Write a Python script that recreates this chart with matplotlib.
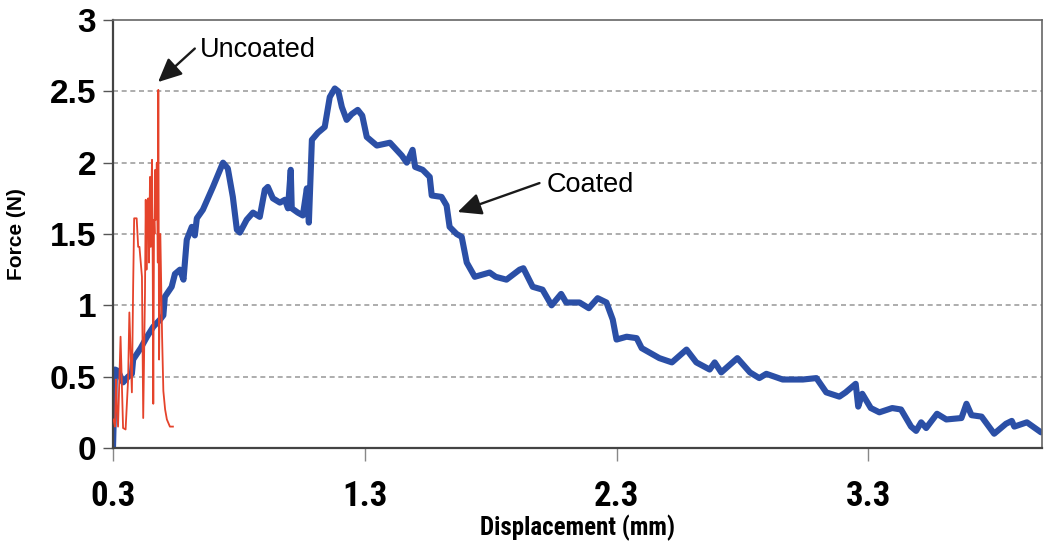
import matplotlib
matplotlib.use("Agg")
import matplotlib.pyplot as plt
from matplotlib import font_manager as fm

# ---- data ----
coated_x = [0.300, 0.308, 0.320, 0.340, 0.360, 0.375, 0.380, 0.410, 0.435, 0.460,
            0.487, 0.500, 0.506, 0.533, 0.546, 0.566, 0.580, 0.593, 0.613, 0.625,
            0.633, 0.657, 0.697, 0.737, 0.756, 0.776, 0.792, 0.804, 0.831, 0.856,
            0.883, 0.903, 0.915, 0.935, 0.963, 0.983, 0.995, 1.006, 1.010, 1.034,
            1.054, 1.070, 1.078, 1.090, 1.114, 1.141, 1.161, 1.181, 1.195, 1.209,
            1.228, 1.248, 1.272, 1.290, 1.308, 1.348, 1.400, 1.447, 1.467, 1.490,
            1.500, 1.530, 1.558, 1.566, 1.605, 1.625, 1.637, 1.665, 1.685, 1.705,
            1.737, 1.796, 1.820, 1.863, 1.915, 1.930, 1.967, 2.006, 2.042, 2.080,
            2.100, 2.153, 2.190, 2.225, 2.260, 2.285, 2.300, 2.340, 2.380, 2.400,
            2.430, 2.470, 2.520, 2.578, 2.617, 2.670, 2.690, 2.716, 2.780, 2.830,
            2.867, 2.895, 2.960, 3.040, 3.094, 3.133, 3.185, 3.210, 3.250, 3.260,
            3.276, 3.310, 3.344, 3.395, 3.430, 3.470, 3.490, 3.510, 3.530, 3.573,
            3.610, 3.670, 3.690, 3.710, 3.750, 3.800, 3.847, 3.870, 3.880, 3.930,
            3.986]
coated_y = [0.00, 0.55, 0.54, 0.46, 0.50, 0.52, 0.62, 0.70, 0.78, 0.85,
            0.90, 0.93, 1.06, 1.13, 1.22, 1.25, 1.18, 1.46, 1.55, 1.49,
            1.61, 1.67, 1.83, 2.00, 1.96, 1.76, 1.53, 1.51, 1.60, 1.65,
            1.62, 1.81, 1.83, 1.75, 1.72, 1.74, 1.68, 1.95, 1.68, 1.65,
            1.63, 1.82, 1.58, 2.16, 2.21, 2.25, 2.46, 2.52, 2.50, 2.39,
            2.30, 2.34, 2.37, 2.33, 2.18, 2.12, 2.14, 2.05, 2.00, 2.09,
            1.97, 1.95, 1.90, 1.77, 1.76, 1.70, 1.55, 1.50, 1.48, 1.30,
            1.20, 1.23, 1.20, 1.18, 1.25, 1.26, 1.13, 1.11, 1.00, 1.08,
            1.02, 1.02, 0.98, 1.05, 1.02, 0.90, 0.76, 0.78, 0.77, 0.70,
            0.67, 0.63, 0.60, 0.69, 0.60, 0.55, 0.60, 0.53, 0.63, 0.53,
            0.49, 0.52, 0.48, 0.48, 0.49, 0.39, 0.36, 0.39, 0.45, 0.29,
            0.38, 0.28, 0.25, 0.28, 0.27, 0.15, 0.12, 0.18, 0.14, 0.24,
            0.20, 0.21, 0.31, 0.23, 0.22, 0.10, 0.17, 0.19, 0.15, 0.18,
            0.11]

uncoated_x = [0.302, 0.308, 0.312, 0.315, 0.320, 0.330, 0.340, 0.350, 0.360, 0.365,
              0.375, 0.380, 0.384, 0.394, 0.400, 0.405, 0.415, 0.420, 0.427, 0.430,
              0.433, 0.436, 0.440, 0.443, 0.447, 0.450, 0.453, 0.455, 0.458, 0.460,
              0.463, 0.465, 0.468, 0.470, 0.474, 0.478, 0.480, 0.483, 0.488, 0.495,
              0.500, 0.507, 0.514, 0.526, 0.538]
uncoated_y = [0.20, 0.15, 0.48, 0.30, 0.15, 0.78, 0.14, 0.13, 0.48, 0.95,
              0.39, 1.13, 1.61, 1.61, 1.41, 1.41, 1.20, 0.21, 1.08, 1.74,
              1.25, 1.70, 1.75, 1.30, 1.90, 1.41, 1.85, 2.02, 1.20, 0.31,
              1.60, 1.50, 1.95, 1.60, 2.00, 1.30, 2.51, 0.62, 1.50, 0.78,
              0.40, 0.27, 0.20, 0.15, 0.15]

x_ticks = [0.3, 1.3, 2.3, 3.3]
x_tick_labels = ["0.3", "1.3", "2.3", "3.3"]
y_ticks = [0, 0.5, 1, 1.5, 2, 2.5, 3]
y_tick_labels = ["0", "0.5", "1", "1.5", "2", "2.5", "3"]
grid_levels = [0.5, 1, 1.5, 2, 2.5]

# ---- fonts ----
available = {f.name for f in fm.fontManager.ttflist}
main_font = "Liberation Sans" if "Liberation Sans" in available else "DejaVu Sans"


def _is_bold(w):
    if isinstance(w, (int, float)):
        return w >= 600
    return str(w).lower() in ("bold", "heavy", "black", "demibold", "semibold", "extra bold")


narrow_fp = None
pref = ["Liberation Sans Narrow", "Roboto Condensed", "Open Sans Condensed", "DejaVu Sans"]
for name in pref:
    for f in fm.fontManager.ttflist:
        cond = ("Narrow" in f.name or "Condensed" in f.name or
                str(f.stretch) in ("condensed", "semi-condensed", "extra-condensed")
                or "Condensed" in f.fname or "Narrow" in f.fname)
        if f.name == name and cond and _is_bold(f.weight):
            narrow_fp = f.fname
            break
    if narrow_fp:
        break
if narrow_fp is None:
    for f in fm.fontManager.ttflist:
        if ("Narrow" in f.fname or "Condensed" in f.fname) and _is_bold(f.weight) \
                and "Mono" not in f.fname and "Serif" not in f.fname:
            narrow_fp = f.fname
            break

if narrow_fp:
    xt_fp = fm.FontProperties(fname=narrow_fp, size=25)
    xl_fp = fm.FontProperties(fname=narrow_fp, size=18)
else:
    xt_fp = fm.FontProperties(family=main_font, weight="bold", size=22)
    xl_fp = fm.FontProperties(family=main_font, weight="bold", size=15)

fig = plt.figure(figsize=(10.5, 5.49), dpi=100)
ax = fig.add_axes([113 / 1050, 1 - 448 / 549, (1042 - 113) / 1050, (448 - 20) / 549])

for g in grid_levels:
    ax.axhline(g, color="#a0a0a0", lw=1.2, ls=(0, (3.0, 2.2)), zorder=1)

ax.plot(uncoated_x, uncoated_y, color="#e5432b", lw=1.3, zorder=3)
ax.plot(coated_x, coated_y, color="#2b4fa6", lw=4.4, solid_joinstyle="round",
        solid_capstyle="round", zorder=2)

ax.set_xlim(0.3, 3.99)
ax.set_ylim(0, 3)

ax.set_xticks(x_ticks)
ax.set_xticklabels(x_tick_labels, fontproperties=xt_fp)
ax.set_yticks(y_ticks)
ax.set_yticklabels(y_tick_labels, fontfamily=main_font, fontweight="bold", fontsize=24)
ax.tick_params(axis="x", length=9, width=1, color="#888888", pad=14)
ax.tick_params(axis="y", length=7, width=1, color="#555555", pad=5)

for s in ["left", "bottom"]:
    ax.spines[s].set_color("#444444")
    ax.spines[s].set_linewidth(1.6)
for s in ["top", "right"]:
    ax.spines[s].set_color("#666666")
    ax.spines[s].set_linewidth(1.2)

ax.set_xlabel("Displacement (mm)", fontproperties=xl_fp, labelpad=1)
ax.set_ylabel("Force (N)", fontfamily=main_font, fontweight="bold", fontsize=15, labelpad=17)

arrow = dict(arrowstyle="-|>,head_length=0.9,head_width=0.42", color="#1a1a1a",
             facecolor="#4a4a4a", lw=1.7, shrinkA=0, shrinkB=0, mutation_scale=16)
ax.annotate("", xy=(0.479, 2.565), xytext=(0.625, 2.80), arrowprops=arrow)
ax.annotate("", xy=(1.669, 1.654), xytext=(1.994, 1.857), arrowprops=arrow)
ax.text(0.645, 2.79, "Uncoated", fontfamily=main_font, fontsize=19.5,
        ha="left", va="center")
ax.text(2.022, 1.843, "Coated", fontfamily=main_font, fontsize=19.5,
        ha="left", va="center")

fig.savefig("out.png", dpi=100)
